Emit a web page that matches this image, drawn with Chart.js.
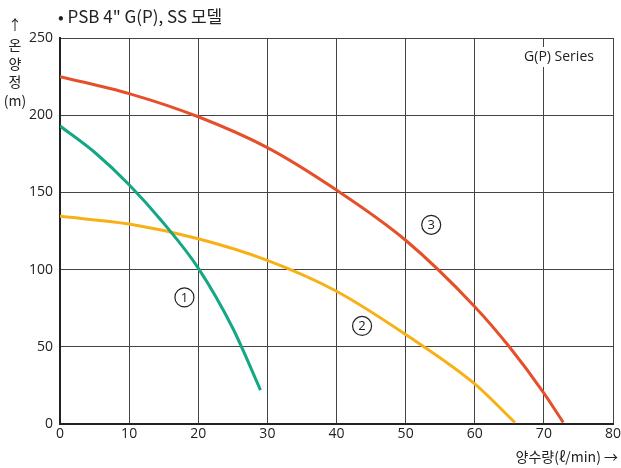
<!DOCTYPE html>
<html>
<head>
<meta charset="utf-8">
<script src="https://cdn.jsdelivr.net/npm/chart.js@4.4.1/dist/chart.umd.min.js"></script>
<style>
  html, body { margin: 0; padding: 0; background: #fff; }
  #wrap { width: 621px; height: 468px; }
</style>
</head>
<body>
<div id="wrap"><canvas id="pumpChart"></canvas></div>
<script>
// 곡선 데이터 (유량 ℓ/min, 양정 m)
const flow1 = [0, 5, 10, 15, 20, 25, 29];
const head1 = [193, 176, 155, 130, 101, 62, 22];

const flow2 = [0, 10, 20, 30, 40, 50, 60, 65.8];
const head2 = [134.5, 129.5, 120, 106, 86, 58, 26, 1];

const flow3 = [0, 10, 20, 30, 40, 50, 60, 65, 70, 72.8];
const head3 = [225, 214, 199, 179, 151.5, 119, 76, 50, 20, 1];

const xTicks = [0, 10, 20, 30, 40, 50, 60, 70, 80];
const yTicks = [0, 50, 100, 150, 200, 250];

// 곡선 번호 위치
const curveLabels = [
    { text: '1', x: 18, y: 82 },
    { text: '2', x: 43.7, y: 63.5 },
    { text: '3', x: 53.7, y: 129 }
];

const toPoints = (xs, ys) => xs.map((x, i) => ({ x: x, y: ys[i] }));

const textFont = '"Noto Sans CJK KR", "Noto Sans", sans-serif';

const decorPlugin = {
    id: 'decor',
    afterDraw(chart) {
        const ctx = chart.ctx;
        const xs = chart.scales.x, ys = chart.scales.y;
        ctx.save();
        ctx.fillStyle = '#222';

        // 제목
        ctx.font = '17px ' + textFont;
        ctx.textAlign = 'left';
        ctx.textBaseline = 'middle';
        ctx.fillText('• PSB 4" G(P), SS 모델', 58, 17);

        // 세로축 제목
        ctx.font = '14px ' + textFont;
        ctx.textAlign = 'center';
        ctx.fillText('↑', 15, 25);
        ['온', '양', '정', '(m)'].forEach((s, i) => {
            ctx.fillText(s, 15, 45 + i * 18.5);
        });

        // 가로축 제목
        ctx.font = '14px ' + textFont;
        ctx.textAlign = 'right';
        ctx.fillText('양수량(ℓ/min) →', 618, 457);

        // 시리즈 이름
        ctx.fillStyle = '#fff';
        ctx.fillRect(520, 47, 80, 20);
        ctx.fillStyle = '#222';
        ctx.textAlign = 'center';
        ctx.font = '14px "Open Sans", "Noto Sans", sans-serif';
        ctx.fillText('G(P) Series', 559, 57);

        // 원 번호
        curveLabels.forEach(l => {
            const px = xs.getPixelForValue(l.x);
            const py = ys.getPixelForValue(l.y);
            ctx.beginPath();
            ctx.arc(px, py, 9.5, 0, Math.PI * 2);
            ctx.strokeStyle = '#222';
            ctx.lineWidth = 1.2;
            ctx.stroke();
            ctx.font = '13px "Open Sans", sans-serif';
            ctx.fillText(l.text, px, py + 0.5);
        });
        ctx.restore();
    }
};

new Chart(document.getElementById('pumpChart'), {
    type: 'line',
    data: {
        datasets: [
            {
                label: '1',
                data: toPoints(flow1, head1),
                borderColor: '#14A783',
                borderWidth: 3,
                pointRadius: 0,
                cubicInterpolationMode: 'monotone'
            },
            {
                label: '2',
                data: toPoints(flow2, head2),
                borderColor: '#F8B017',
                borderWidth: 3,
                pointRadius: 0,
                cubicInterpolationMode: 'monotone'
            },
            {
                label: '3',
                data: toPoints(flow3, head3),
                borderColor: '#E5502B',
                borderWidth: 3,
                pointRadius: 0,
                cubicInterpolationMode: 'monotone'
            }
        ]
    },
    options: {
        responsive: true,
        maintainAspectRatio: false,
        animation: false,
        layout: { padding: { left: 0, top: 38, right: 8, bottom: 0 } },
        plugins: {
            legend: { display: false },
            tooltip: { enabled: false }
        },
        scales: {
            x: {
                type: 'linear',
                min: 0,
                max: 80,
                afterBuildTicks: axis => { axis.ticks = xTicks.map(v => ({ value: v })); },
                afterFit: axis => {
                    axis.height = 44;
                    axis.paddingRight = 0;
                    axis.paddingLeft = 0;
                },
                ticks: {
                    color: '#222',
                    padding: 2,
                    font: { family: '"Open Sans", "Noto Sans", sans-serif', size: 14 }
                },
                grid: { color: '#444', lineWidth: 1, drawTicks: false },
                border: { color: '#222', width: 2 }
            },
            y: {
                min: 0,
                max: 250,
                afterBuildTicks: axis => { axis.ticks = yTicks.map(v => ({ value: v })); },
                afterFit: axis => { axis.width = 60; },
                ticks: {
                    color: '#222',
                    padding: 7,
                    font: { family: '"Open Sans", "Noto Sans", sans-serif', size: 14 }
                },
                grid: { color: '#444', lineWidth: 1, drawTicks: false },
                border: { color: '#222', width: 2 }
            }
        }
    },
    plugins: [decorPlugin]
});
</script>
</body>
</html>
